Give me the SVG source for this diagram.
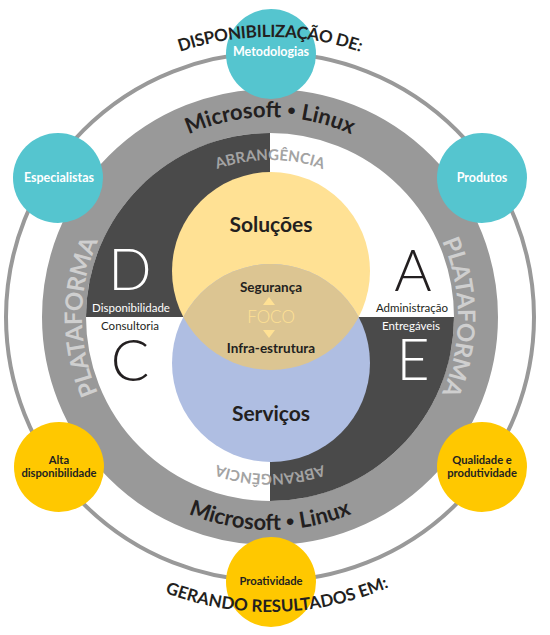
<svg xmlns="http://www.w3.org/2000/svg" width="550" height="635" viewBox="0 0 550 635">
<style>
.f{font-family:Lato,"Liberation Sans",sans-serif}
.b{font-weight:bold}
.dk{fill:#231f20}
.wt{fill:#ffffff}
.big{font-family:Lato,"Liberation Sans",sans-serif;font-weight:300;font-size:57px;text-anchor:middle}
.lbl{font-family:Lato,"Liberation Sans",sans-serif;font-size:11.5px;text-anchor:middle}
.sat{font-family:Lato,"Liberation Sans",sans-serif;font-weight:bold;font-size:12.5px;text-anchor:middle}
.sat2{font-family:Lato,"Liberation Sans",sans-serif;font-weight:bold;font-size:11.2px;text-anchor:middle}
.cy{fill:#55c5cf}
.gd{fill:#ffc800}
</style>
<defs>
<path id="msTop" d="M70,317 A200,200 0 0 1 470,317"/>
<path id="msBot" d="M57,317 A213,213 0 0 0 483,317"/>
<path id="platL" d="M270,505 A188,188 0 0 1 270,129"/>
<path id="platR" d="M270,129 A188,188 0 0 1 270,505"/>
<path id="abTop" d="M113,317 A157,157 0 0 1 427,317"/>
<path id="abBot" d="M427,317 A157,157 0 0 1 113,317"/>
<path id="dispTop" d="M-10,317 A280,280 0 0 1 550,317"/>
<path id="gerBot" d="M-25,317 A295,295 0 0 0 565,317"/>
<clipPath id="yc"><circle cx="271" cy="271" r="99"/></clipPath>
</defs>
<g id="outer-ring">
<circle cx="270" cy="317" r="264" fill="none" stroke="#999" stroke-width="4"/>
</g>
<g id="platform-ring">
<circle cx="270" cy="317" r="206" fill="none" stroke="#999" stroke-width="44"/>
<text class="f b" font-size="22" fill="#231f20"><textPath href="#msTop" startOffset="50%" text-anchor="middle">Microsoft <tspan font-size="15" dy="-3">•</tspan><tspan dy="3"> Linux</tspan></textPath></text>
<text class="f b" font-size="22" fill="#231f20"><textPath href="#msBot" startOffset="50%" text-anchor="middle">Microsoft <tspan font-size="15" dy="-3">•</tspan><tspan dy="3"> Linux</tspan></textPath></text>
<text class="f b" font-size="24" fill="#cfcfcf" letter-spacing="-0.3"><textPath href="#platL" startOffset="50%" text-anchor="middle">PLATAFORMA</textPath></text>
<text class="f b" font-size="24" fill="#cfcfcf" letter-spacing="-0.3"><textPath href="#platR" startOffset="50%" text-anchor="middle">PLATAFORMA</textPath></text>
</g>
<g id="quadrants">
<path d="M270,317 L86,317 A184,184 0 0 1 270,133 Z" fill="#4a4a4a"/>
<path d="M270,317 L454,317 A184,184 0 0 1 270,501 Z" fill="#4a4a4a"/>
<text class="f b" font-size="15" fill="#a3a3a3"><textPath href="#abTop" startOffset="50%" text-anchor="middle">ABRANGÊNCIA</textPath></text>
<text class="f b" font-size="15" fill="#a3a3a3"><textPath href="#abBot" startOffset="50%" text-anchor="middle">ABRANGÊNCIA</textPath></text>
</g>
<g id="quadrant-D">
<text class="big wt" x="130" y="290">D</text>
<text class="lbl wt" x="131" y="312">Disponibilidade</text>
</g>
<g id="quadrant-C">
<text class="lbl dk" x="130" y="330">Consultoria</text>
<text class="big dk" x="130" y="381">C</text>
</g>
<g id="quadrant-A">
<text class="big dk" x="413" y="291">A</text>
<text class="lbl dk" x="412" y="312">Administração</text>
</g>
<g id="quadrant-E">
<text class="lbl wt" x="411" y="330">Entregáveis</text>
<text class="big wt" x="413" y="380">E</text>
</g>
<g id="solucoes">
<circle cx="271" cy="271" r="99" fill="#ffe194"/>
</g>
<g id="servicos">
<circle cx="271" cy="363" r="99" fill="#afbee2"/>
</g>
<g id="foco">
<circle cx="271" cy="363" r="99" fill="#dcc592" clip-path="url(#yc)"/>
<text class="f b dk" font-size="21" x="271" y="232" text-anchor="middle">Soluções</text>
<text class="f b dk" font-size="21" x="271" y="421" text-anchor="middle">Serviços</text>
<text class="f b dk" font-size="13.5" x="271" y="292" text-anchor="middle">Segurança</text>
<text class="f b dk" font-size="13.5" x="271" y="353" text-anchor="middle">Infra-estrutura</text>
<text class="f" font-size="17" font-weight="300" fill="#ffe194" x="271" y="323" text-anchor="middle">FOCO</text>
<polygon points="263,305 275,305 269,297" fill="#ffe194"/>
<polygon points="263,330 275,330 269,338" fill="#ffe194"/>
</g>
<g id="metodologias">
<circle class="cy" cx="271" cy="54" r="45"/>
<text class="sat wt" x="271" y="56">Metodologias</text>
</g>
<g id="especialistas">
<circle class="cy" cx="58" cy="178" r="45"/>
<text class="sat wt" x="59" y="182">Especialistas</text>
</g>
<g id="produtos">
<circle class="cy" cx="482" cy="178" r="45"/>
<text class="sat wt" x="482" y="182">Produtos</text>
</g>
<g id="alta-disponibilidade">
<circle class="gd" cx="59" cy="467" r="45"/>
<text class="sat2 dk" x="59" y="464">Alta</text>
<text class="sat2 dk" x="59" y="477">disponibilidade</text>
</g>
<g id="qualidade">
<circle class="gd" cx="482" cy="467" r="45"/>
<text class="sat2 dk" x="482" y="464">Qualidade e</text>
<text class="sat2 dk" x="482" y="477">produtividade</text>
</g>
<g id="proatividade">
<circle class="gd" cx="271" cy="582" r="45"/>
<text class="sat2 dk" x="271" y="585">Proatividade</text>
</g>
<g id="captions">
<text class="f b dk" font-size="17" letter-spacing="-0.3"><textPath href="#dispTop" startOffset="50%" text-anchor="middle">DISPONIBILIZAÇÃO DE:</textPath></text>
<text class="f b dk" font-size="17"><textPath href="#gerBot" startOffset="50.8%" text-anchor="middle">GERANDO RESULTADOS EM:</textPath></text>
</g>
</svg>
